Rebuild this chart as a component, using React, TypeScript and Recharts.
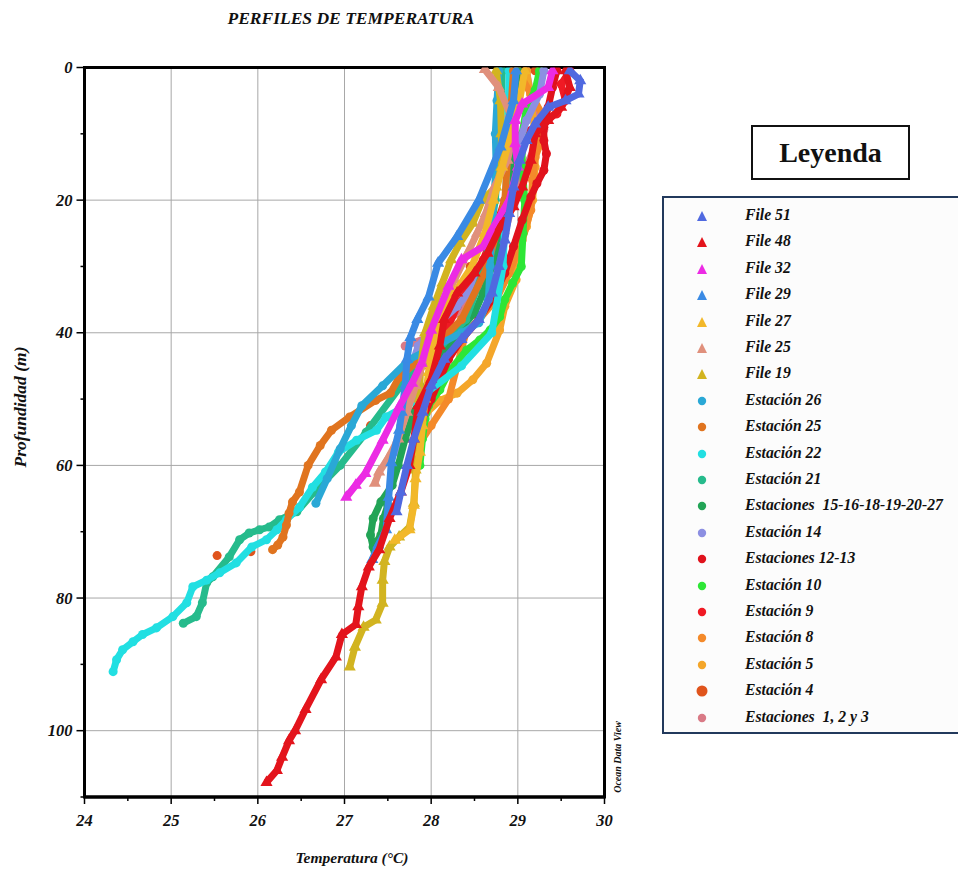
import {
  ScatterChart,
  Scatter,
  XAxis,
  YAxis,
  ZAxis,
  CartesianGrid,
  ReferenceArea,
} from "recharts";

type Pt = [number, number]; // [temperatura °C, profundidad m]

const serif = "'Liberation Serif', 'Times New Roman', serif";

const xTicks = [24, 24.5, 25, 25.5, 26, 26.5, 27, 27.5, 28, 28.5, 29, 29.5, 30];
const yTicks = [0, 10, 20, 30, 40, 50, 60, 70, 80, 90, 100, 110];
const xGrid = [25, 26, 27, 28, 29];
const yGrid = [20, 40, 60, 80, 100];

const file51: Pt[] = [[29.6, 0.5], [29.72, 2], [29.7, 4], [29.55, 5], [29.35, 6], [29.2, 8.5], [29.1, 11], [29.02, 14], [28.95, 18], [28.9, 22], [28.85, 26], [28.78, 30], [28.7, 34], [28.55, 38], [28.35, 41], [28.15, 44], [28.0, 48], [27.9, 52], [27.8, 56], [27.72, 60], [27.65, 64], [27.6, 67]];
const file48: Pt[] = [[29.55, 0.5], [29.6, 3], [29.5, 6], [29.35, 8], [29.2, 10], [29.15, 14], [29.05, 18], [28.95, 21], [28.8, 24], [28.65, 28], [28.5, 31], [28.3, 34], [28.15, 38], [28.1, 42], [28.0, 47], [27.85, 51], [27.8, 56], [27.75, 60], [27.65, 64], [27.52, 68], [27.4, 72.7], [27.28, 75.3], [27.2, 78.3], [27.16, 81.3], [27.13, 84], [26.97, 85.5], [26.9, 88.9], [26.73, 92.3], [26.55, 96.8], [26.43, 100], [26.36, 101.5], [26.28, 104], [26.22, 106], [26.1, 107.8]];
const file32: Pt[] = [[29.4, 0.5], [29.35, 3], [29.05, 5.5], [28.97, 8], [28.97, 11.5], [29.0, 15], [28.9, 20], [28.7, 24.5], [28.6, 27], [28.35, 29], [28.2, 33], [28.0, 39.6], [27.89, 44.6], [27.78, 47.6], [27.63, 51.2], [27.44, 56.2], [27.24, 61.2], [27.13, 63], [27.02, 64.8]];
const file29: Pt[] = [[28.98, 0.5], [28.95, 5], [28.8, 12], [28.55, 20], [28.3, 25.5], [28.08, 29.5], [27.97, 34.6], [27.84, 38], [27.76, 40.7], [27.72, 44], [27.7, 48], [27.66, 52], [27.63, 54.7], [27.54, 59.6], [27.51, 64.8], [27.48, 69.7], [27.39, 72], [27.32, 74.2]];
const file27: Pt[] = [[29.08, 0.5], [29.02, 5], [28.92, 10], [28.82, 15], [28.72, 20], [28.62, 25], [28.47, 30], [28.27, 34], [28.12, 38], [28.02, 42], [27.97, 46], [27.93, 50], [27.9, 54], [27.87, 58], [27.82, 62], [27.8, 66], [27.75, 69.7], [27.58, 71.3]];
const file25: Pt[] = [[28.62, 0.3], [28.78, 3], [28.91, 7], [28.93, 11], [28.88, 14], [28.73, 18], [28.63, 22], [28.53, 25], [28.42, 28], [28.27, 32], [28.12, 36], [28.02, 40], [27.92, 44], [27.82, 48], [27.72, 52], [27.62, 56], [27.5, 59], [27.4, 61], [27.35, 62.7]];
const file19: Pt[] = [[28.75, 0.5], [28.8, 5], [28.81, 10], [28.81, 15], [28.75, 18], [28.59, 20], [28.48, 23.5], [28.33, 26.5], [28.23, 29], [28.13, 32.5], [28.03, 36], [27.93, 40], [27.88, 45], [27.86, 50], [27.85, 55], [27.82, 60.7], [27.8, 65.7], [27.75, 69.3], [27.63, 70.8], [27.52, 72.3], [27.46, 74.5], [27.44, 77.3], [27.44, 80.8], [27.36, 83.3], [27.22, 84.4], [27.12, 87.4], [27.06, 90.4]];
const est26: Pt[] = [[28.78, 0.5], [28.76, 5], [28.74, 10], [28.75, 15], [28.72, 20], [28.7, 25], [28.68, 30], [28.66, 35], [28.55, 38.5], [28.35, 40], [28.05, 42], [27.75, 44], [27.44, 48], [27.2, 51], [27.08, 54], [26.95, 57.5], [26.8, 62], [26.67, 65.7]];
const est25: Pt[] = [[28.95, 0.5], [28.9, 10], [28.85, 20], [28.65, 30], [28.35, 38], [28.05, 42], [27.63, 46.7], [27.53, 49.1], [27.36, 50.2], [27.06, 52.7], [26.85, 54.7], [26.72, 57], [26.58, 60], [26.48, 64], [26.4, 65.5], [26.36, 67.2], [26.33, 69], [26.29, 70.8], [26.23, 72], [26.17, 72.7]];
const est22: Pt[] = [[28.9, 0.5], [28.88, 10], [28.86, 20], [28.83, 30], [28.7, 40], [28.35, 45], [27.85, 50], [27.48, 52.7], [27.37, 54.7], [27.14, 56.2], [26.93, 58], [26.78, 61], [26.63, 63.3], [26.48, 66.3], [26.33, 68.2], [26.22, 69.7], [26.1, 71.2], [25.93, 72.3], [25.75, 74.7], [25.56, 76.2], [25.41, 77.3], [25.25, 78.3], [25.18, 80.7], [25.02, 82.8], [24.83, 84.5], [24.67, 85.5], [24.56, 86.6], [24.44, 87.8], [24.37, 89.3], [24.33, 91.1]];
const est21: Pt[] = [[28.82, 0.5], [28.8, 10], [28.74, 20], [28.62, 30], [28.4, 38], [28.05, 43], [27.65, 48], [27.25, 55], [26.95, 60], [26.65, 64], [26.45, 67], [26.25, 68.2], [26.13, 69.3], [26.02, 69.7], [25.9, 70.2], [25.79, 71.2], [25.67, 73.8], [25.48, 76.8], [25.41, 77.7], [25.36, 80.7], [25.29, 82.8], [25.14, 83.8]];
const est15a27: Pt[] = [[29.0, 0.5], [28.95, 5], [28.9, 10], [28.92, 15], [28.88, 20], [28.8, 25], [28.7, 30], [28.6, 34], [28.5, 37], [28.3, 40], [28.1, 44], [27.95, 48], [27.8, 52], [27.7, 56], [27.62, 60], [27.55, 63], [27.42, 65.5], [27.33, 68], [27.3, 70.5], [27.33, 72.3], [27.42, 70.5], [27.45, 68], [27.5, 66]];
const est14: Pt[] = [[29.3, 0.5], [29.25, 4], [29.1, 8], [29.0, 12], [28.92, 17], [28.85, 22], [28.7, 28], [28.55, 32], [28.3, 36], [28.05, 39], [27.85, 42], [27.75, 46], [27.7, 50], [27.65, 54], [27.62, 58]];
const est1213: Pt[] = [[29.45, 0.5], [29.4, 3], [29.35, 6], [29.3, 9], [29.3, 11], [29.33, 13], [29.3, 15.5], [29.22, 17.5], [29.15, 19.5], [29.05, 23], [28.95, 27], [28.85, 31], [28.7, 35], [28.55, 38], [28.35, 41], [28.2, 44], [28.1, 47], [28.0, 50], [27.9, 53]];
const est10: Pt[] = [[29.25, 0.5], [29.2, 3.4], [29.1, 6], [29.05, 10], [29.05, 15], [29.08, 20], [29.06, 25], [29.04, 30], [28.94, 32.5], [28.85, 35], [28.79, 37.6], [28.68, 39.6], [28.56, 41.1], [28.41, 42.6], [28.22, 45.6], [28.1, 48.6], [27.97, 51], [27.93, 53], [27.9, 56], [27.87, 60]];
const est9: Pt[] = [[29.6, 0.5], [29.5, 2.5], [29.55, 5], [29.45, 7], [29.3, 8], [29.15, 9.5], [29.05, 12], [28.95, 16], [28.85, 20], [28.72, 25], [28.6, 29], [28.45, 33], [28.3, 36], [28.2, 39], [28.15, 42], [28.1, 45], [28.0, 48]];
const est8: Pt[] = [[29.0, 0.5], [29.15, 4], [29.3, 7.5], [29.29, 10.5], [29.2, 13.5], [29.17, 17], [29.15, 21.5], [29.05, 26], [28.9, 31], [28.75, 35], [28.55, 38], [28.4, 40], [28.3, 45], [28.2, 50], [28.0, 54], [27.85, 57]];
const est5: Pt[] = [[29.1, 0.5], [29.15, 5], [29.2, 10], [29.2, 15], [29.17, 20], [29.1, 24], [29.0, 28], [28.98, 32], [28.85, 36], [28.79, 39.6], [28.64, 44.6], [28.48, 47.1], [28.3, 49.1], [28.1, 50.2], [27.95, 52]];
const est4: Pt[] = [[29.2, 0.5], [29.05, 6], [28.9, 12], [28.7, 20], [28.45, 30], [28.1, 40], [27.7, 48], [27.3, 54], [26.7, 64], [25.92, 73], [25.53, 73.6]];
const est123: Pt[] = [[29.1, 0.5], [29.15, 4], [29.25, 7], [29.3, 9.4], [29.2, 12], [29.05, 16], [28.95, 20], [28.85, 25], [28.7, 30], [28.5, 34], [28.3, 37], [28.0, 40.5], [27.7, 42]];

type Serie = { name: string; color: string; shape: "triangle" | "circle"; data: Pt[]; line?: boolean; big?: boolean };

const series: Serie[] = [
  { name: "File 51", color: "#5069e0", shape: "triangle", data: file51 },
  { name: "File 48", color: "#e3141c", shape: "triangle", data: file48 },
  { name: "File 32", color: "#ec2be4", shape: "triangle", data: file32 },
  { name: "File 29", color: "#3a8ae4", shape: "triangle", data: file29 },
  { name: "File 27", color: "#f2b82a", shape: "triangle", data: file27 },
  { name: "File 25", color: "#e0907c", shape: "triangle", data: file25 },
  { name: "File 19", color: "#d2b420", shape: "triangle", data: file19 },
  { name: "Estación 26", color: "#2aa8d6", shape: "circle", data: est26 },
  { name: "Estación 25", color: "#e0741f", shape: "circle", data: est25 },
  { name: "Estación 22", color: "#22dfe2", shape: "circle", data: est22 },
  { name: "Estación 21", color: "#26bb8c", shape: "circle", data: est21 },
  { name: "Estaciones  15-16-18-19-20-27", color: "#22a456", shape: "circle", data: est15a27 },
  { name: "Estación 14", color: "#8c8fe2", shape: "circle", data: est14 },
  { name: "Estaciones 12-13", color: "#e0121c", shape: "circle", data: est1213 },
  { name: "Estación 10", color: "#2ee636", shape: "circle", data: est10 },
  { name: "Estación 9", color: "#f01a24", shape: "circle", data: est9 },
  { name: "Estación 8", color: "#f48a2a", shape: "circle", data: est8 },
  { name: "Estación 5", color: "#f4a62a", shape: "circle", data: est5 },
  { name: "Estación 4", color: "#e0541c", shape: "circle", data: est4, line: false, big: true },
  { name: "Estaciones  1, 2 y 3", color: "#d97a86", shape: "circle", data: est123 },
];

const tickFont = { fontFamily: serif, fontWeight: 700, fontStyle: "italic" as const, fontSize: 16.5, fill: "#111" };

const YTick = (props: any) => {
  const { x, y, payload } = props;
  const major = payload.value % 20 === 0;
  return (
    <g>
      <line x1={x - (major ? 8 : 4)} x2={x} y1={y} y2={y} stroke="#000" strokeWidth={1.5} />
      {major && (
        <text x={x - 12} y={y} dy={5.5} textAnchor="end" {...tickFont}>
          {payload.value}
        </text>
      )}
    </g>
  );
};

const XTick = (props: any) => {
  const { x, y, payload } = props;
  const major = Number.isInteger(payload.value);
  return (
    <g>
      <line x1={x} x2={x} y1={y} y2={y + (major ? 7 : 4)} stroke="#000" strokeWidth={1.5} />
      {major && (
        <text x={x} y={y + 29} textAnchor="middle" {...tickFont}>
          {payload.value}
        </text>
      )}
    </g>
  );
};

const LegendMark = ({ s }: { s: Serie }) =>
  s.shape === "triangle" ? (
    <svg width={12} height={12} style={{ display: "block" }}>
      <polygon points="6,1 11,11 1,11" fill={s.color} />
    </svg>
  ) : (
    <svg width={12} height={12} style={{ display: "block" }}>
      <circle cx={6} cy={6} r={s.big ? 5.5 : 4.2} fill={s.color} />
    </svg>
  );

const text = { fontFamily: serif, fontWeight: 700, fontStyle: "italic" as const, color: "#111" };

export default function App() {
  return (
    <div style={{ position: "absolute", left: 0, top: 0, width: 958, height: 878, background: "#fff", overflow: "hidden" }}>
      <div style={{ ...text, position: "absolute", left: 351, top: 18, transform: "translate(-50%,-50%)", fontSize: 17.5, whiteSpace: "nowrap" }}>
        PERFILES DE TEMPERATURA
      </div>

      <ScatterChart width={958} height={878} margin={{ top: 67.5, right: 353.5, bottom: 0, left: 0 }}>
        <CartesianGrid stroke="#a8a8a8" strokeWidth={1} verticalValues={xGrid} horizontalValues={yGrid} />
        <XAxis
          type="number"
          dataKey="t"
          domain={[24, 30]}
          ticks={xTicks}
          interval={0}
          height={81}
          tickSize={0}
          tickMargin={0}
          tickLine={false}
          tick={<XTick />}
          axisLine={{ stroke: "#000", strokeWidth: 3 }}
          allowDataOverflow
        />
        <YAxis
          type="number"
          dataKey="d"
          domain={[0, 110]}
          reversed
          ticks={yTicks}
          interval={0}
          width={84.5}
          tickSize={0}
          tickMargin={0}
          tickLine={false}
          tick={<YTick />}
          axisLine={{ stroke: "#000", strokeWidth: 3 }}
          allowDataOverflow
        />
        <ZAxis type="number" range={[64, 64]} />
        {series
          .slice()
          .reverse()
          .map((s) => (
            <Scatter
              key={s.name}
              name={s.name}
              data={s.data.map(([t, d]) => ({ t, d }))}
              fill={s.color}
              shape={s.shape}
              line={s.line === false ? false : { stroke: s.color, strokeWidth: 7 }}
              isAnimationActive={false}
            />
          ))}
        <ReferenceArea x1={24} x2={30} y1={0} y2={110} fill="none" fillOpacity={0} stroke="#000" strokeWidth={3} />
      </ScatterChart>

      <div style={{ ...text, position: "absolute", left: 20, top: 407, transform: "translate(-50%,-50%) rotate(-90deg)", fontSize: 17.5, whiteSpace: "nowrap" }}>
        Profundidad (m)
      </div>
      <div style={{ ...text, position: "absolute", left: 352, top: 858, transform: "translate(-50%,-50%)", fontSize: 15.5, whiteSpace: "nowrap" }}>
        Temperatura (°C)
      </div>
      <div style={{ ...text, position: "absolute", left: 617, top: 757, transform: "translate(-50%,-50%) rotate(-90deg)", fontSize: 10, whiteSpace: "nowrap" }}>
        Ocean Data View
      </div>

      <div
        style={{
          position: "absolute",
          left: 751,
          top: 125,
          width: 155,
          height: 51,
          border: "2px solid #111",
          display: "flex",
          alignItems: "center",
          justifyContent: "center",
          fontFamily: serif,
          fontWeight: 700,
          fontSize: 28,
          color: "#111",
        }}
      >
        Leyenda
      </div>

      <div
        style={{
          position: "absolute",
          left: 662,
          top: 196,
          width: 320,
          height: 534,
          border: "2px solid #22395c",
          background: "#fcfcfc",
        }}
      >
        {series.map((s, i) => (
          <div key={s.name} style={{ position: "absolute", left: 0, top: 18 + i * 26.4 - 8, height: 16 }}>
            <div style={{ position: "absolute", left: 32, top: 2 }}>
              <LegendMark s={s} />
            </div>
            <div style={{ ...text, position: "absolute", left: 81, top: -2, fontSize: 15.7, whiteSpace: "pre" }}>{s.name}</div>
          </div>
        ))}
      </div>
    </div>
  );
}
